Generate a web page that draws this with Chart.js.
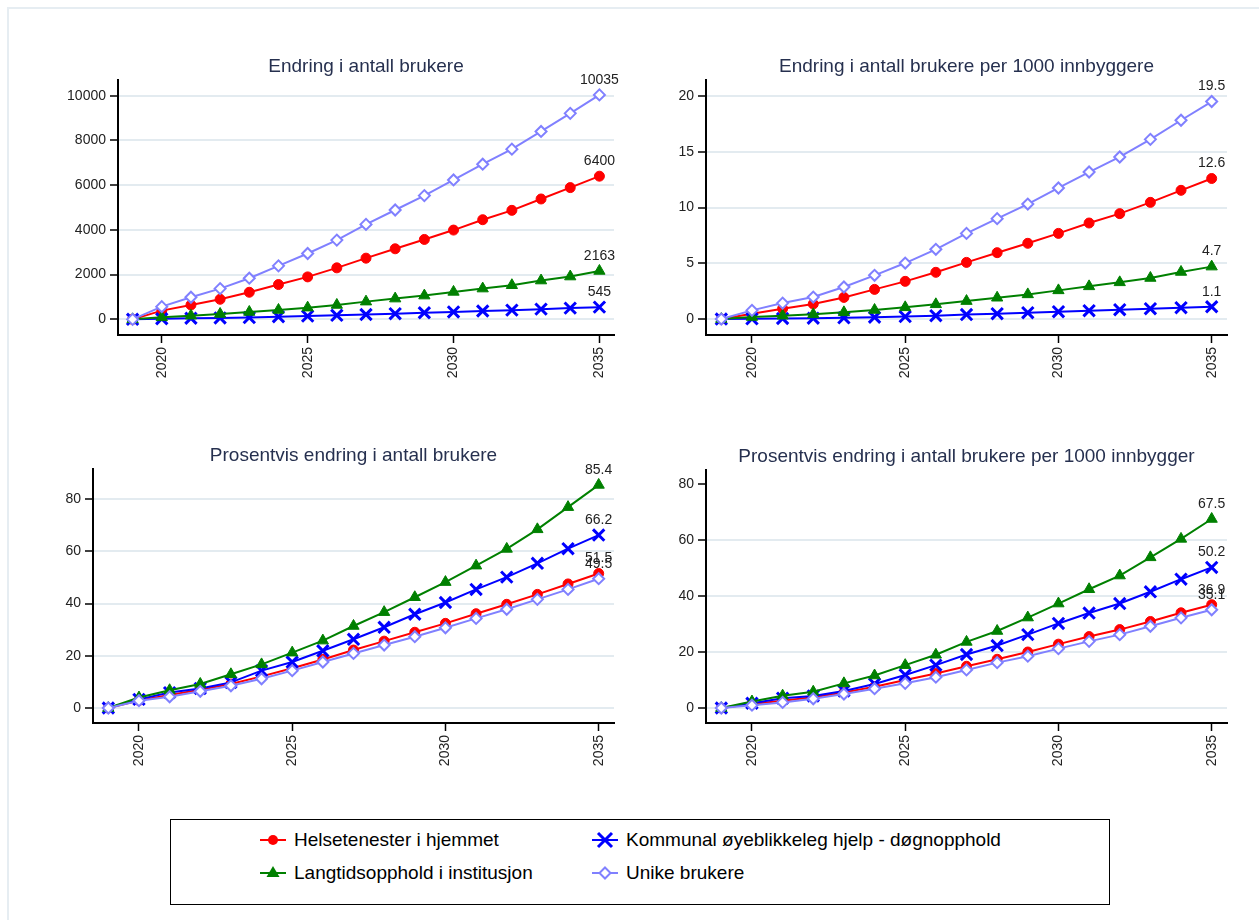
<!DOCTYPE html>
<html>
<head>
<meta charset="utf-8">
<script src="https://cdn.jsdelivr.net/npm/chart.js@4.4.1/dist/chart.umd.min.js"></script>
<style>
  html, body { margin: 0; padding: 0; background: #fff; width: 1259px; height: 920px; overflow: hidden;
    font-family: "Liberation Sans", Arial, sans-serif; }
  #frame { position: absolute; left: 7px; top: 7px; width: 1300px; height: 960px;
    border-left: 2px solid #e6edf2; border-top: 2px solid #e6edf2; }
  canvas.panel { position: absolute; left: 0; top: 0; }
  #legend { position: absolute; left: 170px; top: 819px; width: 940px; height: 86px;
    border: 1.5px solid #000; box-sizing: border-box; background: #fff; }
  .item { position: absolute; height: 24px; display: flex; align-items: center;
    font-size: 19px; color: #000; white-space: nowrap; }
  .item svg { margin-right: 8px; }
</style>
</head>
<body>
<div id="frame"></div>
<canvas class="panel" id="p1" width="1259" height="920"></canvas>
<canvas class="panel" id="p2" width="1259" height="920"></canvas>
<canvas class="panel" id="p3" width="1259" height="920"></canvas>
<canvas class="panel" id="p4" width="1259" height="920"></canvas>
<div id="legend"></div>
<script>
// ---- data -------------------------------------------------------------
const years = [2019, 2020, 2021, 2022, 2023, 2024, 2025, 2026, 2027, 2028, 2029, 2030, 2031, 2032, 2033, 2034, 2035];
const xTicks = [2020, 2025, 2030, 2035];

const seriesNames = ['Helsetenester i hjemmet', 'Kommunal øyeblikkeleg hjelp - døgnopphold',
                     'Langtidsopphold i institusjon', 'Unike brukere'];

const panelTitles = ['Endring i antall brukere', 'Endring i antall brukere per 1000 innbyggere',
                     'Prosentvis endring i antall brukere', 'Prosentvis endring i antall brukere per 1000 innbygger'];

// Endring i antall brukere
const helse1 = [0, 389, 643, 897, 1211, 1555, 1898, 2302, 2735, 3154, 3572, 3991, 4454, 4873, 5381, 5889, 6400];
const komm1  = [0, 27, 49, 62, 81, 118, 145, 180, 216, 254, 295, 332, 374, 412, 456, 502, 545];
const lang1  = [0, 90, 164, 239, 329, 419, 523, 643, 792, 927, 1061, 1226, 1375, 1525, 1734, 1913, 2163];
const unike1 = [0, 568, 987, 1375, 1839, 2392, 2945, 3543, 4245, 4888, 5531, 6233, 6936, 7608, 8401, 9208, 10035];
const yTicks1 = [0, 2000, 4000, 6000, 8000, 10000];

// Endring per 1000 innbyggere
const helse2 = [0, 0.48, 0.93, 1.35, 1.94, 2.66, 3.38, 4.19, 5.08, 5.95, 6.79, 7.68, 8.61, 9.45, 10.46, 11.54, 12.6];
const komm2  = [0, 0.02, 0.05, 0.07, 0.11, 0.16, 0.22, 0.3, 0.4, 0.48, 0.57, 0.66, 0.75, 0.84, 0.93, 1.02, 1.1];
const lang2  = [0, 0.18, 0.3, 0.42, 0.6, 0.81, 1.05, 1.32, 1.61, 1.91, 2.21, 2.57, 2.93, 3.29, 3.68, 4.22, 4.7];
const unike2 = [0, 0.78, 1.43, 1.97, 2.87, 3.92, 5.02, 6.25, 7.68, 9.0, 10.31, 11.75, 13.18, 14.53, 16.11, 17.82, 19.5];
const yTicks2 = [0, 5, 10, 15, 20];

// Prosentvis endring
const helse3 = [0, 2.9, 5.0, 7.0, 9.2, 12.1, 15.2, 18.6, 22.2, 25.6, 29.0, 32.4, 36.1, 39.7, 43.5, 47.5, 51.5];
const komm3  = [0, 3.3, 5.9, 7.5, 9.8, 14.3, 17.6, 21.9, 26.3, 30.9, 35.9, 40.4, 45.4, 50.1, 55.4, 61.0, 66.2];
const lang3  = [0, 4.0, 6.8, 9.2, 12.9, 16.7, 21.2, 25.8, 31.4, 36.7, 42.4, 48.2, 54.5, 60.9, 68.4, 76.9, 85.4];
const unike3 = [0, 2.8, 4.3, 6.4, 8.5, 11.2, 14.3, 17.6, 20.9, 24.1, 27.3, 30.7, 34.3, 37.8, 41.6, 45.4, 49.5];
const yTicks3 = [0, 20, 40, 60, 80];

// Prosentvis endring per 1000 innbygger
const helse4 = [0, 1.4, 2.6, 3.8, 5.5, 7.6, 10.0, 12.3, 14.9, 17.4, 20.0, 22.8, 25.5, 28.0, 30.9, 34.0, 36.9];
const komm4  = [0, 1.7, 3.5, 4.3, 6.1, 8.6, 11.8, 15.3, 19.1, 22.3, 26.2, 30.2, 33.9, 37.3, 41.5, 46.0, 50.2];
const lang4  = [0, 2.3, 4.4, 5.8, 8.8, 11.6, 15.3, 19.0, 23.6, 27.5, 32.3, 37.3, 42.4, 47.3, 53.8, 60.4, 67.5];
const unike4 = [0, 1.0, 2.0, 3.3, 5.0, 6.9, 8.8, 11.0, 13.6, 16.2, 18.5, 21.2, 23.8, 26.2, 29.2, 32.2, 35.1];
const yTicks4 = [0, 20, 40, 60, 80];

// ---- styling ----------------------------------------------------------
const FONT = '"Liberation Sans", Arial, sans-serif';
const GRID = '#e3ebf0';
const TEXT = '#222';

const styles = [
  { color: '#ff0000', pointStyle: 'circle',   radius: 5,   fill: '#ff0000', pbw: 1,   order: 3 },
  { color: '#0000ff', pointStyle: 'crossRot', radius: 8,   fill: '#0000ff', pbw: 3,   order: 2 },
  { color: '#008000', pointStyle: 'triangle', radius: 6.5, fill: '#008000', pbw: 1,   order: 1 },
  { color: '#8080ff', pointStyle: 'rectRot',  radius: 5.5, fill: '#ffffff', pbw: 2,   order: 0 }
];

// Panel title, centred over the plot area
const panelTitle = {
  id: 'panelTitle',
  afterDraw(chart, args, opts) {
    const { ctx, chartArea } = chart;
    ctx.save();
    ctx.font = '19px ' + FONT;
    ctx.fillStyle = '#26304f';
    ctx.textAlign = 'center';
    ctx.textBaseline = 'middle';
    ctx.fillText(opts.text, (chartArea.left + chartArea.right) / 2, chartArea.top - 13);
    ctx.restore();
  }
};

// Value of the last point written above it
const endLabels = {
  id: 'endLabels',
  afterDatasetsDraw(chart, args, opts) {
    const ctx = chart.ctx;
    ctx.save();
    ctx.font = '14px ' + FONT;
    ctx.fillStyle = TEXT;
    ctx.textAlign = 'center';
    ctx.textBaseline = 'middle';
    chart.data.datasets.forEach((ds, i) => {
      const meta = chart.getDatasetMeta(i);
      const last = meta.data.length - 1;
      const pt = meta.data[last];
      const v = ds.data[last].y;
      ctx.fillText(v.toFixed(opts.decimals), pt.x, pt.y - 15);
    });
    ctx.restore();
  }
};

function makePanel(id, title, series, yTicks, yMin, yMax, area, decimals, skipGrid) {
  const datasets = series.map((vals, i) => {
    const s = styles[i];
    return {
      label: seriesNames[i],
      data: years.map((x, k) => ({ x: x, y: vals[k] })),
      borderColor: s.color,
      backgroundColor: s.color,
      borderWidth: 2,
      pointStyle: s.pointStyle,
      pointRadius: s.radius,
      pointBackgroundColor: s.fill,
      pointBorderColor: s.color,
      pointBorderWidth: s.pbw,
      tension: 0,
      order: s.order
    };
  });
  const yW = 60, xH = 50;
  new Chart(document.getElementById(id), {
    type: 'line',
    data: { datasets },
    plugins: [panelTitle, endLabels],
    options: {
      responsive: false,
      animation: false,
      devicePixelRatio: 1,
      events: [],
      layout: { padding: { left: area.left - yW, top: area.top, right: 1259 - area.right, bottom: 920 - area.bottom - xH } },
      plugins: {
        legend: { display: false },
        tooltip: { enabled: false },
        panelTitle: { text: title },
        endLabels: { decimals: decimals }
      },
      scales: {
        x: {
          type: 'linear', min: 2018.5, max: 2035.5,
          afterBuildTicks: s => { s.ticks = xTicks.map(v => ({ value: v })); },
          afterFit: s => { s.height = xH; },
          ticks: { autoSkip: false, minRotation: 90, maxRotation: 90, padding: 4,
                   color: TEXT, font: { family: FONT, size: 14 }, callback: v => String(v) },
          grid: { drawOnChartArea: false, drawTicks: true, tickLength: 8, tickColor: '#000', tickWidth: 1.5 },
          border: { display: true, color: '#000', width: 2 }
        },
        y: {
          type: 'linear', min: yMin, max: yMax,
          afterBuildTicks: s => { s.ticks = yTicks.map(v => ({ value: v })); },
          afterFit: s => { s.width = yW; },
          ticks: { padding: 4, color: TEXT, font: { family: FONT, size: 14 }, callback: v => String(v) },
          grid: {
            color: c => (c.tick && skipGrid.includes(c.tick.value)) ? 'rgba(0,0,0,0)' : GRID,
            lineWidth: 2, drawTicks: true, tickLength: 8, tickColor: '#000', tickWidth: 1.5
          },
          border: { display: true, color: '#000', width: 2 }
        }
      }
    }
  });
}

makePanel('p1', panelTitles[0], [helse1, komm1, lang1, unike1], yTicks1, -700, 10700,
          { left: 118, right: 614, top: 80, bottom: 335 }, 0, []);
makePanel('p2', panelTitles[1], [helse2, komm2, lang2, unike2], yTicks2, -1.43, 21.43,
          { left: 706, right: 1227, top: 80, bottom: 335 }, 1, []);
makePanel('p3', panelTitles[2], [helse3, komm3, lang3, unike3], yTicks3, -5.74, 91.5,
          { left: 93, right: 614, top: 469, bottom: 723 }, 1, []);
makePanel('p4', panelTitles[3], [helse4, komm4, lang4, unike4], yTicks4, -5.36, 85,
          { left: 706, right: 1227, top: 470, bottom: 723 }, 1, [80]);

// ---- legend -----------------------------------------------------------
function symbolSvg(i) {
  const s = styles[i];
  let m = '';
  if (s.pointStyle === 'circle') m = `<circle cx="13" cy="9" r="5" fill="${s.color}"/>`;
  if (s.pointStyle === 'triangle') m = `<polygon points="13,2 19.5,13 6.5,13" fill="${s.color}"/>`;
  if (s.pointStyle === 'crossRot') m = `<path d="M6,2 L20,16 M20,2 L6,16" stroke="${s.color}" stroke-width="3"/>`;
  if (s.pointStyle === 'rectRot') m = `<polygon points="13,3.5 18.5,9 13,14.5 7.5,9" fill="#fff" stroke="${s.color}" stroke-width="2"/>`;
  return `<svg width="26" height="18" viewBox="0 0 26 18"><line x1="0" y1="9" x2="26" y2="9" stroke="${s.color}" stroke-width="2"/>${m}</svg>`;
}
const legendPos = [[89, 8], [421, 8], [89, 41], [421, 41]];
const legend = document.getElementById('legend');
seriesNames.forEach((name, i) => {
  const d = document.createElement('div');
  d.className = 'item';
  d.style.left = legendPos[i][0] + 'px';
  d.style.top = legendPos[i][1] + 'px';
  d.innerHTML = symbolSvg(i) + '<span>' + name + '</span>';
  legend.appendChild(d);
});
</script>
</body>
</html>
